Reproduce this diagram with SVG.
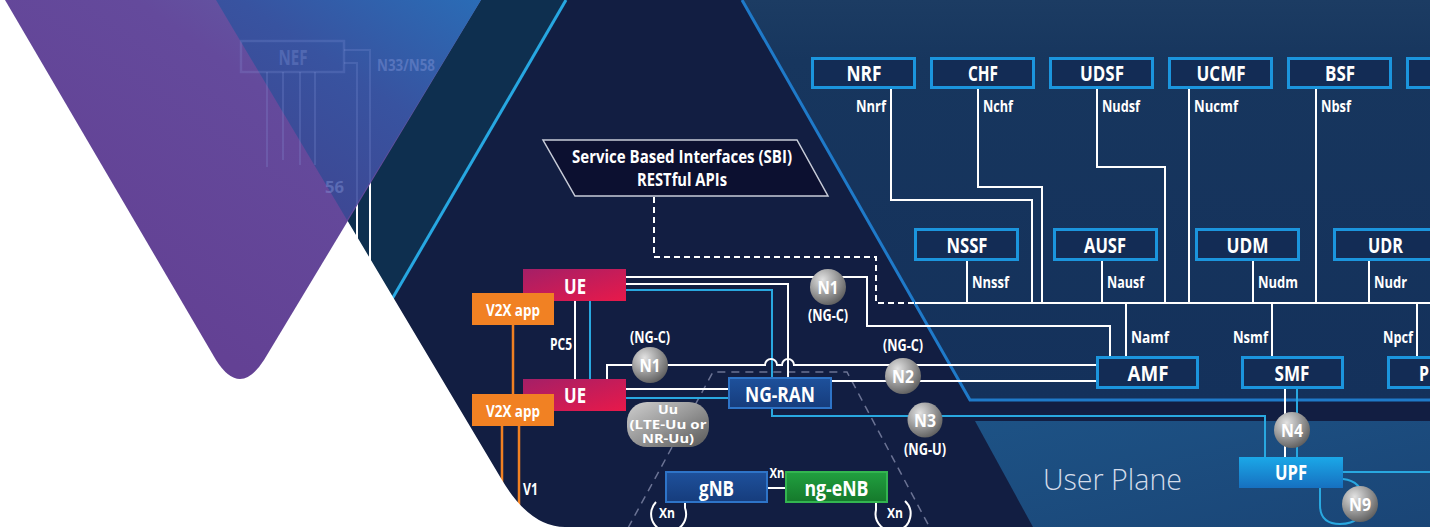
<svg xmlns="http://www.w3.org/2000/svg" width="1430" height="530" viewBox="0 0 1430 530">
<defs>
<style>
.t{font-family:"Open Sans","Noto Sans","DejaVu Sans",sans-serif;fill:#fff;text-anchor:middle}
.b{font-size:21px;font-weight:700}
.s{font-size:16px;font-weight:700}
.ss{font-size:16px;font-weight:700;text-anchor:start}
.se{font-size:16px;font-weight:700;text-anchor:end}
.ct{font-size:18px;font-weight:700}
.uu{font-size:12.5px;font-weight:700}
.nf{fill:#132c55;stroke:#1b95dd;stroke-width:3}
.w{stroke:#fff;stroke-width:2;fill:none}
.c{stroke:#29a8e0;stroke-width:2;fill:none}
.o{stroke:#f08022;stroke-width:2.5;fill:none}
.circ{fill:url(#gc)}
.fd{stroke:#8a9de0;stroke-width:2;fill:none;opacity:0.22}
</style>
<linearGradient id="gcp" x1="0" y1="0" x2="0" y2="1">
<stop offset="0" stop-color="#1c3c63"/><stop offset="0.15" stop-color="#17365e"/><stop offset="1" stop-color="#14315b"/>
</linearGradient>
<linearGradient id="gup" x1="0" y1="0" x2="1" y2="1">
<stop offset="0" stop-color="#1d5285"/><stop offset="1" stop-color="#1a4576"/>
</linearGradient>
<linearGradient id="gpur" x1="1" y1="0" x2="0.3" y2="0.8">
<stop offset="0" stop-color="#6068ad"/><stop offset="0.45" stop-color="#644a9c"/><stop offset="1" stop-color="#634194"/>
</linearGradient>
<linearGradient id="gblu" x1="1" y1="0" x2="0.2" y2="1">
<stop offset="0" stop-color="#2a6cb6"/><stop offset="0.45" stop-color="#3853a0"/><stop offset="1" stop-color="#3f4490"/>
</linearGradient>
<linearGradient id="gue" x1="0" y1="0" x2="1" y2="1">
<stop offset="0" stop-color="#a41f67"/><stop offset="1" stop-color="#e8194a"/>
</linearGradient>
<linearGradient id="gran" x1="0" y1="0" x2="0" y2="1">
<stop offset="0" stop-color="#1e519c"/><stop offset="1" stop-color="#163c7c"/>
</linearGradient>
<linearGradient id="geNB" x1="0" y1="0" x2="0" y2="1">
<stop offset="0" stop-color="#21a040"/><stop offset="1" stop-color="#15792b"/>
</linearGradient>
<linearGradient id="gupf" x1="0" y1="0" x2="0" y2="1">
<stop offset="0" stop-color="#1ba8e8"/><stop offset="1" stop-color="#1670c0"/>
</linearGradient>
<radialGradient id="gc" cx="0.35" cy="0.3" r="0.8">
<stop offset="0" stop-color="#e2e2e2"/><stop offset="0.5" stop-color="#9c9c9c"/><stop offset="1" stop-color="#555"/>
</radialGradient>
<linearGradient id="gpill" x1="0" y1="0" x2="1" y2="1">
<stop offset="0" stop-color="#cfcfcf"/><stop offset="0.5" stop-color="#969696"/><stop offset="1" stop-color="#585858"/>
</linearGradient>
</defs>

<g id="background">
<rect x="0" y="0" width="1430" height="530" fill="#121e42"/>
<polygon points="0,0 566,0 390,303 0,303" fill="#0e2f4f"/>
<polygon points="742,0 1430,0 1430,400 970,400" fill="url(#gcp)"/>
<polygon points="975,421 1430,421 1430,527 1033,527" fill="url(#gup)"/>
<polyline points="742,0 970,400 1430,400" fill="none" stroke="#1f7ac9" stroke-width="3"/>
<line x1="566" y1="0" x2="388" y2="306" stroke="#27a7e1" stroke-width="3"/>
<text class="t" x="1043" y="490" style="font-size:30px;font-weight:300;text-anchor:start;fill:#d4dcea" textLength="139" lengthAdjust="spacingAndGlyphs">User Plane</text>
<path d="M628,528 L713,372 H847 L930,528" fill="none" stroke="#6b7394" stroke-width="1.5" stroke-dasharray="8,6"/>
</g>

<g id="connectors">
<path class="w" d="M654,197 V257 H876 V303 H915" stroke-dasharray="6,4"/>
<path class="w" d="M915,303 H1430"/>
<path class="w" d="M891,89 V200 H1032 V303"/>
<path class="w" d="M978,89 V187 H1042 V303"/>
<path class="w" d="M1097,89 V167 H1165 V303"/>
<path class="w" d="M1189,89 V303"/>
<path class="w" d="M1316,89 V303"/>
<path class="w" d="M967,261 V303"/>
<path class="w" d="M1102,261 V303"/>
<path class="w" d="M1253,261 V303"/>
<path class="w" d="M1369,261 V303"/>
<path class="w" d="M1126,303 V357"/>
<path class="w" d="M1272,303 V357"/>
<path class="w" d="M1417,303 V357"/>
<path class="w" d="M626,277 H867 V326 H1110 V357"/>
<path class="w" d="M626,284 H788 V378"/>
<path class="c" d="M626,290 H772 V378"/>
<path class="w" d="M607,379 V365 H765 A6,6 0 0 1 777,365 H782 A6,6 0 0 1 794,365 H1096"/>
<path class="w" d="M626,389 H729"/>
<path class="c" d="M626,398 H729"/>
<path class="w" d="M831,381 H1096"/>
<path class="w" d="M575,301 V379"/>
<path class="c" d="M590,301 V379"/>
<path class="c" d="M772,408 V416 H1265 V457"/>
<path class="w" d="M1285,389 V457"/>
<path class="c" d="M1297,389 V457"/>
<path class="c" d="M1343,472 H1430"/>
<path class="c" d="M1343,479 Q1362,481 1363,500 Q1364,524 1340,524 Q1320,524 1320,505 V488"/>
<path class="w" d="M767,488 H786"/>
<path class="w" d="M685,502 V508 A17.5,17.5 0 1 1 656,502"/>
<path class="w" d="M876,503 V510 A17.5,17.5 0 1 0 905,501"/>
<path class="o" d="M513,325 V394"/>
<path class="o" d="M502,426 V528"/>
<path class="o" d="M519,426 V528"/>
<path d="M344,50 H370 V262 M344,63 H357 V240" fill="none" stroke="#fff" stroke-width="2"/>
</g>

<g id="labels">
<text class="t se" x="886" y="112" textLength="30" lengthAdjust="spacingAndGlyphs">Nnrf</text>
<text class="t ss" x="983" y="112" textLength="30" lengthAdjust="spacingAndGlyphs">Nchf</text>
<text class="t ss" x="1102" y="112" textLength="38" lengthAdjust="spacingAndGlyphs">Nudsf</text>
<text class="t ss" x="1194" y="112" textLength="44" lengthAdjust="spacingAndGlyphs">Nucmf</text>
<text class="t ss" x="1321" y="112" textLength="30" lengthAdjust="spacingAndGlyphs">Nbsf</text>
<text class="t ss" x="972" y="288" textLength="37" lengthAdjust="spacingAndGlyphs">Nnssf</text>
<text class="t ss" x="1107" y="288" textLength="37" lengthAdjust="spacingAndGlyphs">Nausf</text>
<text class="t ss" x="1258" y="288" textLength="40" lengthAdjust="spacingAndGlyphs">Nudm</text>
<text class="t ss" x="1374" y="288" textLength="33" lengthAdjust="spacingAndGlyphs">Nudr</text>
<text class="t ss" x="1131" y="343" textLength="38" lengthAdjust="spacingAndGlyphs">Namf</text>
<text class="t se" x="1268" y="343" textLength="35" lengthAdjust="spacingAndGlyphs">Nsmf</text>
<text class="t se" x="1413" y="343" textLength="30" lengthAdjust="spacingAndGlyphs">Npcf</text>
<text class="t se" x="572" y="350" textLength="22" lengthAdjust="spacingAndGlyphs">PC5</text>
<text class="t ss" x="523" y="495" textLength="15" lengthAdjust="spacingAndGlyphs">V1</text>
<text class="t s" x="828" y="321" textLength="40" lengthAdjust="spacingAndGlyphs">(NG-C)</text>
<text class="t s" x="650" y="343" textLength="40" lengthAdjust="spacingAndGlyphs">(NG-C)</text>
<text class="t s" x="903" y="351" textLength="40" lengthAdjust="spacingAndGlyphs">(NG-C)</text>
<text class="t s" x="925" y="455" textLength="42" lengthAdjust="spacingAndGlyphs">(NG-U)</text>
<text class="t s" x="777" y="478" style="font-size:14px" textLength="15" lengthAdjust="spacingAndGlyphs">Xn</text>
<text class="t s" x="667" y="518" style="font-size:14px" textLength="16" lengthAdjust="spacingAndGlyphs">Xn</text>
<text class="t s" x="895" y="518" style="font-size:14px" textLength="16" lengthAdjust="spacingAndGlyphs">Xn</text>
</g>

<g id="node-SBI">
<polygon points="543,140 797,140 828,196 575,196" fill="#0c1030" stroke="#c8ccd8" stroke-width="1.5"/>
<text class="t" x="682" y="163" style="font-size:17px;font-weight:700" textLength="220" lengthAdjust="spacingAndGlyphs">Service Based Interfaces (SBI)</text>
<text class="t" x="682" y="186" style="font-size:17px;font-weight:700" textLength="90" lengthAdjust="spacingAndGlyphs">RESTful APIs</text>
</g>

<g id="node-NRF"><rect class="nf" x="812.5" y="58.5" width="102" height="29"/><text class="t b" x="864" y="81" textLength="35" lengthAdjust="spacingAndGlyphs">NRF</text></g>
<g id="node-CHF"><rect class="nf" x="931.5" y="58.5" width="102" height="29"/><text class="t b" x="983" y="81" textLength="30" lengthAdjust="spacingAndGlyphs">CHF</text></g>
<g id="node-UDSF"><rect class="nf" x="1050.5" y="58.5" width="102" height="29"/><text class="t b" x="1102" y="81" textLength="44" lengthAdjust="spacingAndGlyphs">UDSF</text></g>
<g id="node-UCMF"><rect class="nf" x="1169.5" y="58.5" width="102" height="29"/><text class="t b" x="1221" y="81" textLength="49" lengthAdjust="spacingAndGlyphs">UCMF</text></g>
<g id="node-BSF"><rect class="nf" x="1288.5" y="58.5" width="102" height="29"/><text class="t b" x="1340" y="81" textLength="30" lengthAdjust="spacingAndGlyphs">BSF</text></g>
<g id="node-NF6"><rect class="nf" x="1407.5" y="58.5" width="102" height="29"/></g>

<g id="node-NSSF"><rect class="nf" x="915.5" y="229.5" width="102" height="30"/><text class="t b" x="967" y="252.5" textLength="41" lengthAdjust="spacingAndGlyphs">NSSF</text></g>
<g id="node-AUSF"><rect class="nf" x="1054.5" y="229.5" width="102" height="30"/><text class="t b" x="1105" y="252.5" textLength="42" lengthAdjust="spacingAndGlyphs">AUSF</text></g>
<g id="node-UDM"><rect class="nf" x="1196.5" y="229.5" width="102" height="30"/><text class="t b" x="1247.5" y="252.5" textLength="42" lengthAdjust="spacingAndGlyphs">UDM</text></g>
<g id="node-UDR"><rect class="nf" x="1334.5" y="229.5" width="102" height="30"/><text class="t b" x="1385.5" y="252.5" textLength="35" lengthAdjust="spacingAndGlyphs">UDR</text></g>

<g id="node-AMF"><rect class="nf" x="1097.5" y="357.5" width="100" height="30"/><text class="t b" x="1148" y="380.5" textLength="41" lengthAdjust="spacingAndGlyphs">AMF</text></g>
<g id="node-SMF"><rect class="nf" x="1242.5" y="357.5" width="100" height="30"/><text class="t b" x="1292" y="380.5" textLength="35" lengthAdjust="spacingAndGlyphs">SMF</text></g>
<g id="node-PCF"><rect class="nf" x="1388.5" y="357.5" width="100" height="30"/><text class="t b" x="1419" y="380.5" style="text-anchor:start" textLength="10" lengthAdjust="spacingAndGlyphs">P</text></g>

<g id="node-UPF"><rect x="1239" y="457" width="104" height="31" fill="url(#gupf)"/><text class="t b" x="1291" y="480" textLength="32" lengthAdjust="spacingAndGlyphs">UPF</text></g>

<g id="node-NGRAN"><rect x="729" y="378" width="102" height="30" fill="url(#gran)" stroke="#2e74c8" stroke-width="2"/><text class="t b" x="780" y="402" textLength="70" lengthAdjust="spacingAndGlyphs">NG-RAN</text></g>
<g id="node-gNB"><rect x="666" y="472" width="101" height="30" fill="url(#gran)" stroke="#2e74c8" stroke-width="2"/><text class="t b" x="716.5" y="496" textLength="35" lengthAdjust="spacingAndGlyphs">gNB</text></g>
<g id="node-ngeNB"><rect x="786" y="472" width="101" height="30" fill="url(#geNB)" stroke="#33b550" stroke-width="2"/><text class="t b" x="836.5" y="496" textLength="64" lengthAdjust="spacingAndGlyphs">ng-eNB</text></g>

<g id="node-UE1"><rect x="523" y="269" width="103" height="32" fill="url(#gue)"/><text class="t b" x="575" y="294" textLength="22" lengthAdjust="spacingAndGlyphs">UE</text></g>
<g id="node-UE2"><rect x="523" y="379" width="103" height="32" fill="url(#gue)"/><text class="t b" x="575" y="403" textLength="22" lengthAdjust="spacingAndGlyphs">UE</text></g>
<g id="node-V2X1"><rect x="472" y="293" width="82" height="32" fill="#f18123"/><text class="t" x="513" y="316" style="font-size:16px;font-weight:700" textLength="54" lengthAdjust="spacingAndGlyphs">V2X app</text></g>
<g id="node-V2X2"><rect x="472" y="394" width="82" height="32" fill="#f18123"/><text class="t" x="513" y="417" style="font-size:16px;font-weight:700" textLength="54" lengthAdjust="spacingAndGlyphs">V2X app</text></g>

<g id="node-Uu"><rect x="627" y="402" width="82" height="45" rx="20" fill="url(#gpill)"/>
<text class="t uu" x="668" y="414" textLength="20" lengthAdjust="spacingAndGlyphs">Uu</text>
<text class="t uu" x="668" y="428.5" textLength="77" lengthAdjust="spacingAndGlyphs">(LTE-Uu or</text>
<text class="t uu" x="668" y="443" textLength="52" lengthAdjust="spacingAndGlyphs">NR-Uu)</text></g>

<g id="node-N1a"><circle class="circ" cx="828" cy="287" r="18"/><text class="t ct" x="828" y="294" textLength="21" lengthAdjust="spacingAndGlyphs">N1</text></g>
<g id="node-N1b"><circle class="circ" cx="650" cy="365" r="18"/><text class="t ct" x="650" y="372" textLength="21" lengthAdjust="spacingAndGlyphs">N1</text></g>
<g id="node-N2"><circle class="circ" cx="903" cy="376" r="18"/><text class="t ct" x="903" y="383" textLength="22" lengthAdjust="spacingAndGlyphs">N2</text></g>
<g id="node-N3"><circle class="circ" cx="925" cy="420" r="17.5"/><text class="t ct" x="925" y="427" textLength="22" lengthAdjust="spacingAndGlyphs">N3</text></g>
<g id="node-N4"><circle class="circ" cx="1292" cy="430" r="18"/><text class="t ct" x="1292" y="437" textLength="22" lengthAdjust="spacingAndGlyphs">N4</text></g>
<g id="node-N9"><circle class="circ" cx="1360" cy="504" r="18"/><text class="t ct" x="1360" y="511" textLength="22" lengthAdjust="spacingAndGlyphs">N9</text></g>

<g id="overlay">
<path d="M0,0 L216,0 L502,480 Q530,527 565,527 L1430,527 L1430,530 L0,530 Z" fill="#ffffff"/>
<path d="M5,0 L481,0 L264,360 Q240,398 216,360 Z" fill="url(#gpur)"/>
<polygon points="216,0 481,0 347,220" fill="url(#gblu)"/>
</g>

<g id="node-NEF">
<rect x="241" y="41" width="103" height="31" class="fd" style="stroke-width:2.5"/>
<text class="t b" x="293" y="65" style="fill:#8a9de0;opacity:0.3" textLength="29" lengthAdjust="spacingAndGlyphs">NEF</text>
<path class="fd" d="M344,50 H370 V183 M344,63 H357 V205 M267,72 V167 M283,72 V160 M300,72 V165 M315,72 V165"/>
<text class="t ss" x="377" y="71" style="fill:#8a9de0;opacity:0.4" textLength="58" lengthAdjust="spacingAndGlyphs">N33/N58</text>
<text class="t ss" x="325" y="193" style="fill:#8a9de0;opacity:0.4" textLength="19" lengthAdjust="spacingAndGlyphs">56</text>
</g>
</svg>
